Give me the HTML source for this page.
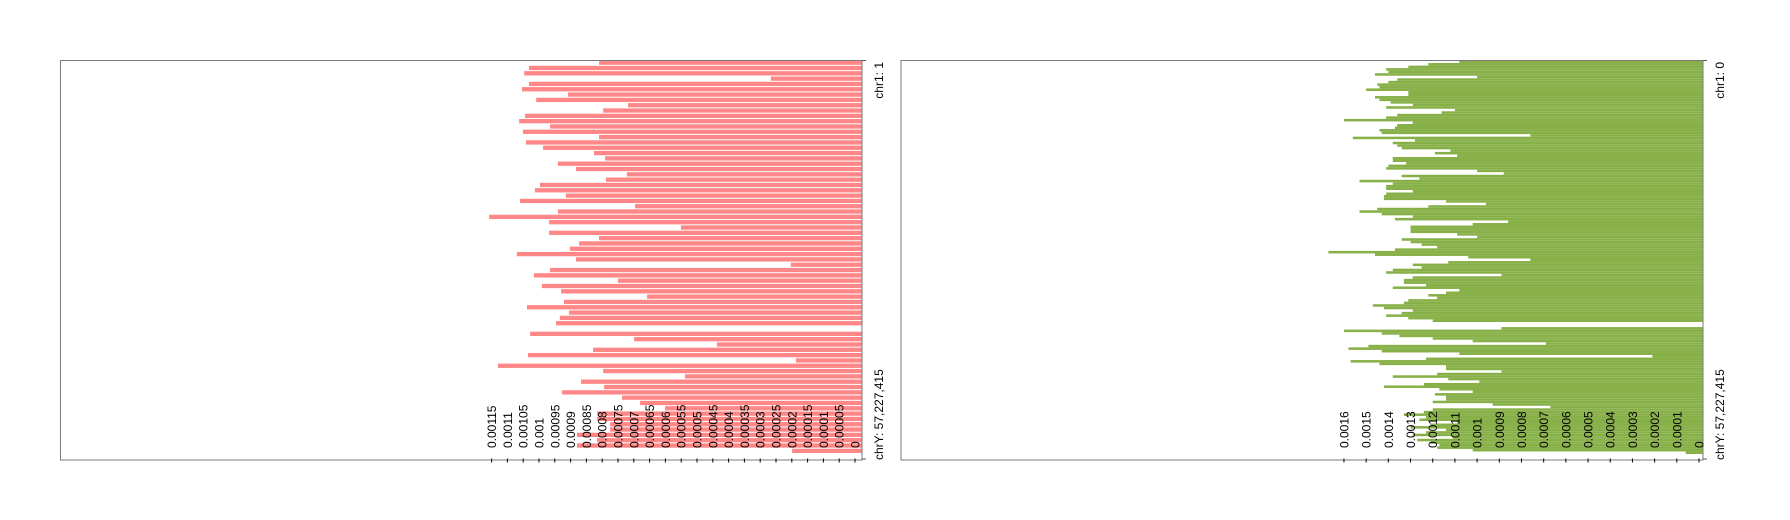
<!DOCTYPE html>
<html><head><meta charset="utf-8"><style>
html,body{margin:0;padding:0;background:#fff;}
svg{display:block;font-family:"Liberation Sans",Arial,sans-serif;}
</style></head><body>
<svg id="chart" width="1790" height="520" viewBox="0 0 1790 520" xmlns="http://www.w3.org/2000/svg">
<g id="left-panel"></g>
<g id="right-panel"></g>
</svg>
<script>
// Left series (values x 1e-5), one per row top->bottom
const leftValues = [81,103.2,104.7,26.6,103.2,105.4,90.8,100.9,71.8,79.7,104.4,106.3,96.5,105.1,81,104.1,98.7,82.6,79.1,94,88.3,72.2,78.8,99.7,101.3,91.5,106,69.6,94,115.8,96.8,55.1,96.8,81,87.3,90.2,107,88.3,20.3,96.5,101.6,75,99.1,93,65.8,92.1,103.8,90.5,93.4,94.6,0,102.8,69.9,43.7,82.9,103.5,18.7,113,79.7,53.8,86.7,79.4,92.7,73.7,68,60.1,81.6,81.6,77.5,77.5,88,81.6,88,19.9];
// Right series (values x 1e-5)
const rightValues = [108,122,131,141,140,146,100,136,140,145,144,150,131,131,146,144,139,129,141,110,116,136,141,160,129,136,137,144,143,76,156,128,138,136,134,112,119,109,138,138,132,140,141,100,88,134,126,153,138,141,141,129,141,142,142,114,96,122,145,153,143,129,137,86,102,130,130,130,109,100,134,130,125,118,137,167,146,104,76,113,129,125,138,141,89,129,133,
133,123,138,108,114,122,118,131,133,147,142,129,134,141,131,120,0,0,89,160,143,135,120,102,69,149,158,143,108,21,123,157,144,114,114,89,118,138,113,99,124,142,117,102,119,
114,114,120,93,67,120,124,133,123,126,109,121,130,114,123,129,111,127,121,117,118,102,6];
const leftTicks = ["0","0.00005","0.0001","0.00015","0.0002","0.00025","0.0003","0.00035","0.0004","0.00045","0.0005","0.00055","0.0006","0.00065","0.0007","0.00075","0.0008","0.00085","0.0009","0.00095","0.001","0.00105","0.0011","0.00115"];
const rightTicks = ["0","0.0001","0.0002","0.0003","0.0004","0.0005","0.0006","0.0007","0.0008","0.0009","0.001","0.0011","0.0012","0.0013","0.0014","0.0015","0.0016"];
const leftChrLabels = ["chr1: 1","chrY: 57,227,415"];
const rightChrLabels = ["chr1: 0","chrY: 57,227,415"];

const NS="http://www.w3.org/2000/svg";
function mk(tag,attrs,parent){const e=document.createElementNS(NS,tag);for(const k in attrs)e.setAttribute(k,attrs[k]);parent.appendChild(e);return e;}

function drawPanel(g,cfg){
  const {x0,x1,zeroX,pxPerUnit,values,ticks,color,gap,labels,prefix}=cfg;
  const yTop=60.5,yEnd=454,axisY=458.5;
  const band=(yEnd-yTop)/values.length;
  const xs=v=>zeroX-v*1e-5*pxPerUnit;
  values.forEach((v,i)=>{
    if(v<=0)return;
    const r=mk('rect',{x:xs(v),y:yTop+i*band,width:x1-xs(v),height:Math.max(band-gap,0.6),fill:color},g);
    
    
  });
  const frame=mk('rect',{x:x0,y:60.5,width:x1-x0,height:399.5,fill:'none',stroke:'#7a7a7a','stroke-width':1},g);
  
  
  ticks.forEach(t=>{
    const tx=xs(parseFloat(t)*1e5);
    const tk=mk('line',{x1:tx,y1:axisY,x2:tx,y2:axisY+4,stroke:'#000','stroke-width':1},g);
    
    
    const tl=mk('text',{x:0,y:0,transform:`translate(${tx+4.5},448) rotate(-90)`,'font-size':12,fill:'#000'},g);
    tl.textContent=t;
    
    
  });
  mk('line',{x1:x1,y1:60.5,x2:x1+4,y2:60.5,stroke:'#555'},g);
  mk('line',{x1:x1,y1:459,x2:x1+4,y2:459,stroke:'#555'},g);
  const lx=x1+21;
  const t1=mk('text',{transform:`translate(${lx},62) rotate(-90)`,'font-size':12,'text-anchor':'end',fill:'#000'},g);
  t1.textContent=labels[0];
  
  
  const t2=mk('text',{transform:`translate(${lx},460) rotate(-90)`,'font-size':12,'text-anchor':'start',fill:'#000'},g);
  t2.textContent=labels[1];
  
  
}
drawPanel(document.getElementById('left-panel'),{x0:60.5,x1:862,zeroX:855,pxPerUnit:316000,values:leftValues,ticks:leftTicks,color:'#ff8787',gap:1,labels:leftChrLabels,prefix:'left'});
drawPanel(document.getElementById('right-panel'),{x0:901,x1:1703,zeroX:1699,pxPerUnit:221900,values:rightValues,ticks:rightTicks,color:'#88b048',gap:0,labels:rightChrLabels,prefix:'right'});
</script>
</body></html>
